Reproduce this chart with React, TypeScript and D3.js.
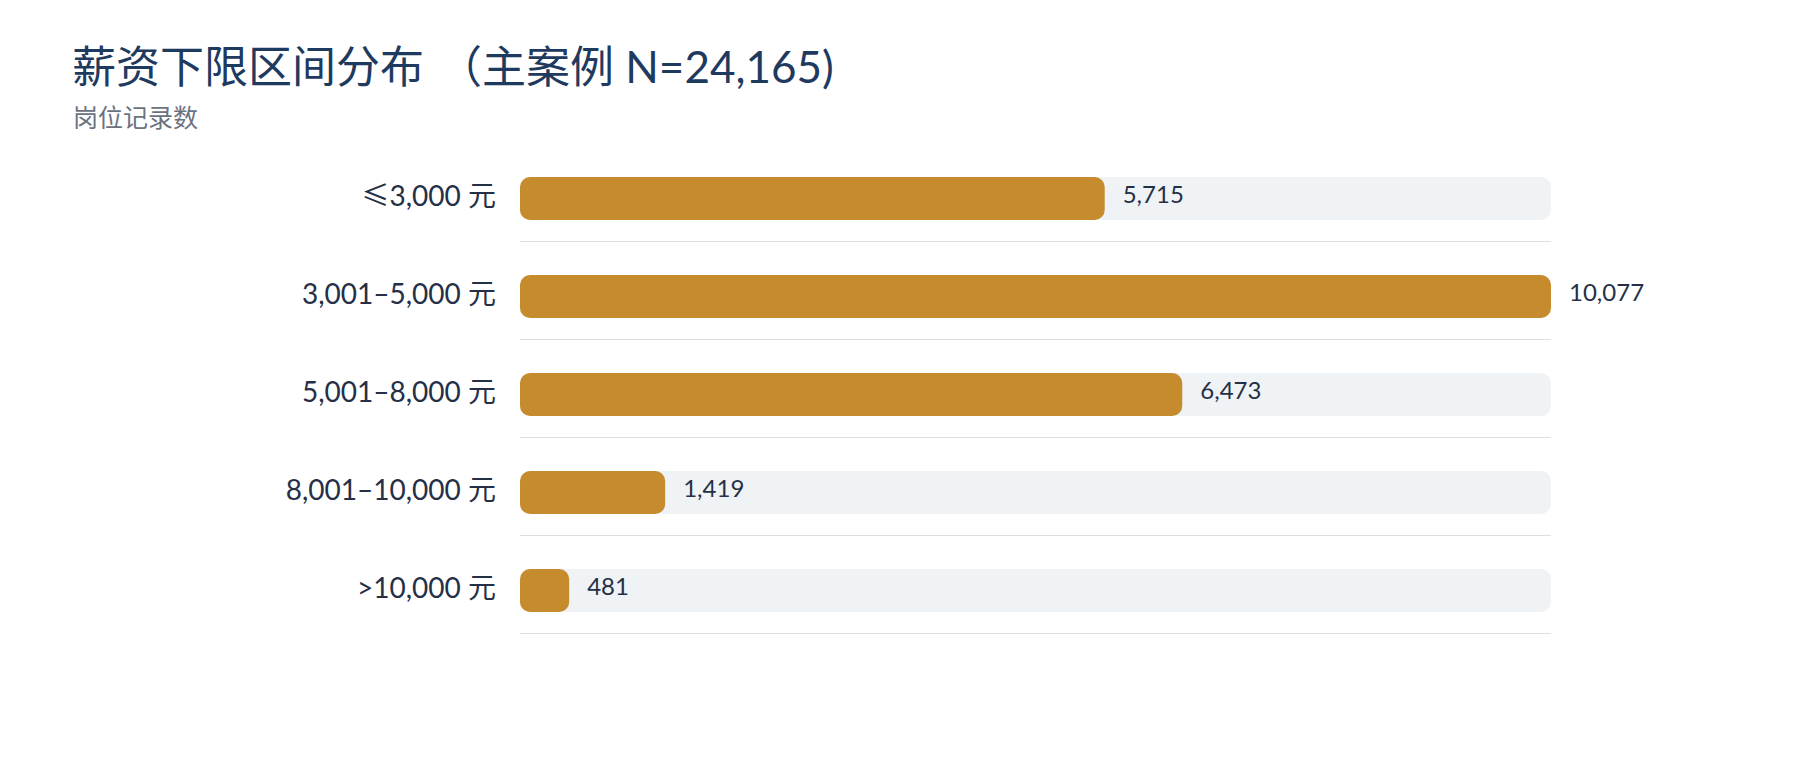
import React from "react";
import * as d3 from "d3";

const categories = ["≤3,000 元", "3,001–5,000 元", "5,001–8,000 元", "8,001–10,000 元", ">10,000 元"];
const counts = [5715, 10077, 6473, 1419, 481];
const titleMain = "薪资下限区间分布";
const titleParen = "（";
const titleRest = "主案例 N=24,165)";
const subtitleText = "岗位记录数";

const W = 1800;
const H = 760;
const FONT = "Lato, 'Noto Sans CJK SC', 'Noto Sans', sans-serif";
const CJK = "'Noto Sans CJK SC', sans-serif";

function Label({ text }: { text: string }) {
  if (text.startsWith("≤")) {
    return (
      <>
        <tspan fontFamily={CJK}>≤</tspan>
        {text.slice(1)}
      </>
    );
  }
  return <>{text}</>;
}

export default function App() {
  const x = d3.scaleLinear().domain([0, d3.max(counts) as number]).range([520, 1551]);
  const y = d3.scaleBand<string>().domain(categories).range([143, 633]).padding(0);
  const fmt = d3.format(",");
  const barH = 43;
  const barOff = 34;
  const r = 10;

  return (
    <svg
      width={W}
      height={H}
      viewBox={`0 0 ${W} ${H}`}
      style={{ position: "absolute", left: 0, top: 0, background: "#ffffff", display: "block" }}
      fontFamily={FONT}
    >
      <rect x={0} y={0} width={W} height={H} fill="#ffffff" />
      <text x={72} y={83} fontSize={44} fill="#1F3A5F" fontWeight={400}>
        {titleMain}
        <tspan dx={14}>{titleParen}</tspan>
        {titleRest}
      </text>
      <text x={73} y={127} fontSize={25} fill="#6B7280">
        {subtitleText}
      </text>
      {categories.map((c, i) => {
        const y0 = y(c) as number;
        const cy = y0 + barOff + barH / 2;
        const v = counts[i];
        const w = x(v) - x(0);
        return (
          <g key={c}>
            <rect x={x(0)} y={y0 + barOff} width={x.range()[1] - x(0)} height={barH} rx={r} ry={r} fill="#EFF3F6" />
            <rect x={x(0)} y={y0 + barOff} width={Math.max(w, 2 * r)} height={barH} rx={r} ry={r} fill="#C68B2C" />
            <line
              x1={x(0)}
              x2={x.range()[1]}
              y1={y0 + y.bandwidth() + 0.5}
              y2={y0 + y.bandwidth() + 0.5}
              stroke="#DCDFE6"
              strokeWidth={1}
            />
            <text x={496} y={cy + 7.5} fontSize={28} textAnchor="end" fill="#253047">
              <Label text={c} />
            </text>
            <text x={x(v) + 18} y={cy + 4} fontSize={24} fill="#253047">
              {fmt(v)}
            </text>
          </g>
        );
      })}
    </svg>
  );
}
